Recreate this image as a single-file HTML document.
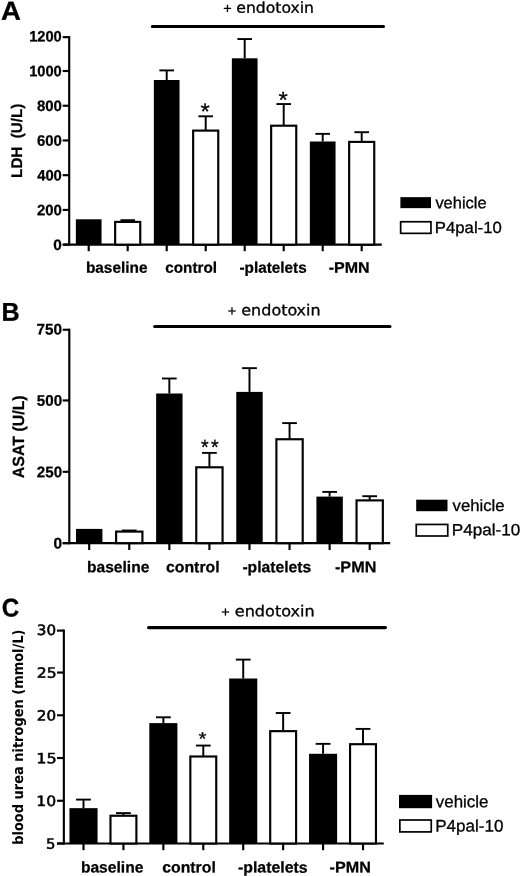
<!DOCTYPE html>
<html lang="en"><head><meta charset="utf-8"><title>Figure</title>
<style>
html,body{margin:0;padding:0;background:#fff;}
body{width:520px;height:876px;overflow:hidden;}
svg{display:block;}
text{fill:#000;text-rendering:geometricPrecision;}
</style></head><body>
<svg width="520" height="876" viewBox="0 0 520 876">
<rect x="0" y="0" width="520" height="876" fill="#fff"/>
<line x1="69.20" y1="36.07" x2="69.20" y2="245.72" stroke="#000" stroke-width="2.15" stroke-linecap="butt"/>
<line x1="62.70" y1="244.65" x2="381.80" y2="244.65" stroke="#000" stroke-width="2.15" stroke-linecap="butt"/>
<line x1="62.70" y1="244.65" x2="69.20" y2="244.65" stroke="#000" stroke-width="2.15" stroke-linecap="butt"/>
<text x="53.29" y="249.95" transform="rotate(0.03 53.29 249.95)" font-family="'Liberation Sans', sans-serif" font-size="15.1" font-weight="bold" textLength="8.57" lengthAdjust="spacingAndGlyphs" xml:space="preserve" stroke="#000" stroke-width="0.25" stroke-linejoin="round">0</text>
<line x1="62.70" y1="209.92" x2="69.20" y2="209.92" stroke="#000" stroke-width="2.15" stroke-linecap="butt"/>
<text x="36.90" y="215.22" transform="rotate(0.03 36.90 215.22)" font-family="'Liberation Sans', sans-serif" font-size="15.1" font-weight="bold" textLength="24.98" lengthAdjust="spacingAndGlyphs" xml:space="preserve" stroke="#000" stroke-width="0.25" stroke-linejoin="round">200</text>
<line x1="62.70" y1="175.19" x2="69.20" y2="175.19" stroke="#000" stroke-width="2.15" stroke-linecap="butt"/>
<text x="37.15" y="180.49" transform="rotate(0.03 37.15 180.49)" font-family="'Liberation Sans', sans-serif" font-size="15.1" font-weight="bold" textLength="24.72" lengthAdjust="spacingAndGlyphs" xml:space="preserve" stroke="#000" stroke-width="0.25" stroke-linejoin="round">400</text>
<line x1="62.70" y1="140.46" x2="69.20" y2="140.46" stroke="#000" stroke-width="2.15" stroke-linecap="butt"/>
<text x="36.90" y="145.76" transform="rotate(0.03 36.90 145.76)" font-family="'Liberation Sans', sans-serif" font-size="15.1" font-weight="bold" textLength="24.98" lengthAdjust="spacingAndGlyphs" xml:space="preserve" stroke="#000" stroke-width="0.25" stroke-linejoin="round">600</text>
<line x1="62.70" y1="105.73" x2="69.20" y2="105.73" stroke="#000" stroke-width="2.15" stroke-linecap="butt"/>
<text x="36.90" y="111.03" transform="rotate(0.03 36.90 111.03)" font-family="'Liberation Sans', sans-serif" font-size="15.1" font-weight="bold" textLength="24.98" lengthAdjust="spacingAndGlyphs" xml:space="preserve" stroke="#000" stroke-width="0.25" stroke-linejoin="round">800</text>
<line x1="62.70" y1="71.00" x2="69.20" y2="71.00" stroke="#000" stroke-width="2.15" stroke-linecap="butt"/>
<text x="29.13" y="76.30" transform="rotate(0.03 29.13 76.30)" font-family="'Liberation Sans', sans-serif" font-size="15.1" font-weight="bold" textLength="32.65" lengthAdjust="spacingAndGlyphs" xml:space="preserve" stroke="#000" stroke-width="0.25" stroke-linejoin="round">1000</text>
<line x1="62.70" y1="37.15" x2="69.20" y2="37.15" stroke="#000" stroke-width="2.15" stroke-linecap="butt"/>
<text x="29.13" y="41.57" transform="rotate(0.03 29.13 41.57)" font-family="'Liberation Sans', sans-serif" font-size="15.1" font-weight="bold" textLength="32.65" lengthAdjust="spacingAndGlyphs" xml:space="preserve" stroke="#000" stroke-width="0.25" stroke-linejoin="round">1200</text>
<rect x="75.85" y="219.30" width="25.70" height="25.35" fill="#000"/>
<line x1="88.70" y1="244.65" x2="88.70" y2="251.20" stroke="#000" stroke-width="2.15" stroke-linecap="butt"/>
<line x1="127.70" y1="220.20" x2="127.70" y2="221.90" stroke="#000" stroke-width="1.95" stroke-linecap="butt"/>
<line x1="120.40" y1="220.20" x2="135.00" y2="220.20" stroke="#000" stroke-width="1.9" stroke-linecap="butt"/>
<rect x="115.15" y="221.90" width="25.10" height="22.75" fill="#fff" stroke="#000" stroke-width="2.15"/>
<line x1="127.70" y1="244.65" x2="127.70" y2="251.20" stroke="#000" stroke-width="2.15" stroke-linecap="butt"/>
<line x1="166.70" y1="70.40" x2="166.70" y2="80.00" stroke="#000" stroke-width="1.95" stroke-linecap="butt"/>
<line x1="159.40" y1="70.40" x2="174.00" y2="70.40" stroke="#000" stroke-width="1.9" stroke-linecap="butt"/>
<rect x="153.85" y="80.00" width="25.70" height="164.65" fill="#000"/>
<line x1="166.70" y1="244.65" x2="166.70" y2="251.20" stroke="#000" stroke-width="2.15" stroke-linecap="butt"/>
<line x1="205.70" y1="116.30" x2="205.70" y2="130.60" stroke="#000" stroke-width="1.95" stroke-linecap="butt"/>
<line x1="198.40" y1="116.30" x2="213.00" y2="116.30" stroke="#000" stroke-width="1.9" stroke-linecap="butt"/>
<rect x="193.15" y="130.60" width="25.10" height="114.05" fill="#fff" stroke="#000" stroke-width="2.15"/>
<line x1="205.70" y1="244.65" x2="205.70" y2="251.20" stroke="#000" stroke-width="2.15" stroke-linecap="butt"/>
<text x="200.46" y="119.20" transform="rotate(0.03 200.46 119.20)" font-family="'Liberation Sans', sans-serif" font-size="23" font-weight="normal" textLength="9.23" lengthAdjust="spacingAndGlyphs" xml:space="preserve" stroke="#000" stroke-width="0.3" stroke-linejoin="round">*</text>
<line x1="244.70" y1="39.05" x2="244.70" y2="58.30" stroke="#000" stroke-width="1.95" stroke-linecap="butt"/>
<line x1="237.40" y1="39.05" x2="252.00" y2="39.05" stroke="#000" stroke-width="1.9" stroke-linecap="butt"/>
<rect x="231.85" y="58.30" width="25.70" height="186.35" fill="#000"/>
<line x1="244.70" y1="244.65" x2="244.70" y2="251.20" stroke="#000" stroke-width="2.15" stroke-linecap="butt"/>
<line x1="283.70" y1="104.05" x2="283.70" y2="125.70" stroke="#000" stroke-width="1.95" stroke-linecap="butt"/>
<line x1="276.40" y1="104.05" x2="291.00" y2="104.05" stroke="#000" stroke-width="1.9" stroke-linecap="butt"/>
<rect x="271.15" y="125.70" width="25.10" height="118.95" fill="#fff" stroke="#000" stroke-width="2.15"/>
<line x1="283.70" y1="244.65" x2="283.70" y2="251.20" stroke="#000" stroke-width="2.15" stroke-linecap="butt"/>
<text x="278.51" y="107.70" transform="rotate(0.03 278.51 107.70)" font-family="'Liberation Sans', sans-serif" font-size="23" font-weight="normal" textLength="9.23" lengthAdjust="spacingAndGlyphs" xml:space="preserve" stroke="#000" stroke-width="0.3" stroke-linejoin="round">*</text>
<line x1="322.70" y1="133.85" x2="322.70" y2="141.50" stroke="#000" stroke-width="1.95" stroke-linecap="butt"/>
<line x1="315.40" y1="133.85" x2="330.00" y2="133.85" stroke="#000" stroke-width="1.9" stroke-linecap="butt"/>
<rect x="309.85" y="141.50" width="25.70" height="103.15" fill="#000"/>
<line x1="322.70" y1="244.65" x2="322.70" y2="251.20" stroke="#000" stroke-width="2.15" stroke-linecap="butt"/>
<line x1="361.70" y1="132.20" x2="361.70" y2="141.90" stroke="#000" stroke-width="1.95" stroke-linecap="butt"/>
<line x1="354.40" y1="132.20" x2="369.00" y2="132.20" stroke="#000" stroke-width="1.9" stroke-linecap="butt"/>
<rect x="349.15" y="141.90" width="25.10" height="102.75" fill="#fff" stroke="#000" stroke-width="2.15"/>
<line x1="361.70" y1="244.65" x2="361.70" y2="251.20" stroke="#000" stroke-width="2.15" stroke-linecap="butt"/>
<text x="85.90" y="272.70" transform="rotate(0.03 85.90 272.70)" font-family="'Liberation Sans', sans-serif" font-size="15.4" font-weight="bold" textLength="61.62" lengthAdjust="spacingAndGlyphs" xml:space="preserve" stroke="#000" stroke-width="0.25" stroke-linejoin="round">baseline</text>
<text x="165.30" y="272.70" transform="rotate(0.03 165.30 272.70)" font-family="'Liberation Sans', sans-serif" font-size="15.4" font-weight="bold" textLength="51.67" lengthAdjust="spacingAndGlyphs" xml:space="preserve" stroke="#000" stroke-width="0.25" stroke-linejoin="round">control</text>
<text x="239.50" y="272.70" transform="rotate(0.03 239.50 272.70)" font-family="'Liberation Sans', sans-serif" font-size="15.4" font-weight="bold" textLength="67.25" lengthAdjust="spacingAndGlyphs" xml:space="preserve" stroke="#000" stroke-width="0.25" stroke-linejoin="round">-platelets</text>
<text x="328.68" y="272.70" transform="rotate(0.03 328.68 272.70)" font-family="'Liberation Sans', sans-serif" font-size="15.4" font-weight="bold" textLength="40.96" lengthAdjust="spacingAndGlyphs" xml:space="preserve" stroke="#000" stroke-width="0.25" stroke-linejoin="round">-PMN</text>
<line x1="152.30" y1="26.40" x2="383.50" y2="26.40" stroke="#000" stroke-width="3.0" stroke-linecap="round"/>
<text transform="rotate(0.03 223.15 13.20)" xml:space="preserve"><tspan x="223.15" y="13.20" font-family="'Liberation Sans', sans-serif" font-size="14.5" textLength="12.47" lengthAdjust="spacingAndGlyphs" stroke="#000" stroke-width="0.3" stroke-linejoin="round">+ </tspan><tspan x="236.33" y="12.70" font-family="'DejaVu Sans Condensed', 'DejaVu Sans', sans-serif" font-size="15" textLength="77.59" lengthAdjust="spacingAndGlyphs" stroke="#000" stroke-width="0.3" stroke-linejoin="round">endotoxin</tspan></text>
<text x="21.90" y="177.89" transform="rotate(-90 21.90 177.89)" font-family="'Liberation Sans', sans-serif" font-size="15.4" font-weight="bold" textLength="74.24" lengthAdjust="spacingAndGlyphs" xml:space="preserve" stroke="#000" stroke-width="0.25" stroke-linejoin="round">LDH  (U/L)</text>
<text x="1.11" y="19.85" transform="rotate(0.03 1.11 19.85)" font-family="'Liberation Sans', sans-serif" font-size="26" font-weight="bold" textLength="19.87" lengthAdjust="spacingAndGlyphs" xml:space="preserve" stroke="#000" stroke-width="0.3" stroke-linejoin="round">A</text>
<rect x="400.40" y="197.15" width="30.60" height="11.00" fill="#000"/>
<rect x="400.65" y="221.75" width="30.30" height="11.60" fill="#fff" stroke="#000" stroke-width="1.7"/>
<text x="435.40" y="208.15" transform="rotate(0.03 435.40 208.15)" font-family="'Liberation Sans', sans-serif" font-size="16.1" font-weight="normal" textLength="51.18" lengthAdjust="spacingAndGlyphs" xml:space="preserve" stroke="#000" stroke-width="0.3" stroke-linejoin="round">vehicle</text>
<text x="434.85" y="233.10" transform="rotate(0.03 434.85 233.10)" font-family="'Liberation Sans', sans-serif" font-size="16.1" font-weight="normal" textLength="66.97" lengthAdjust="spacingAndGlyphs" xml:space="preserve" stroke="#000" stroke-width="0.3" stroke-linejoin="round">P4pal-10</text>
<line x1="69.30" y1="328.68" x2="69.30" y2="544.23" stroke="#000" stroke-width="2.15" stroke-linecap="butt"/>
<line x1="62.70" y1="543.15" x2="390.20" y2="543.15" stroke="#000" stroke-width="2.15" stroke-linecap="butt"/>
<line x1="62.70" y1="543.15" x2="69.30" y2="543.15" stroke="#000" stroke-width="2.15" stroke-linecap="butt"/>
<text x="53.40" y="548.55" transform="rotate(0.03 53.40 548.55)" font-family="'Liberation Sans', sans-serif" font-size="15.4" font-weight="bold" textLength="8.57" lengthAdjust="spacingAndGlyphs" xml:space="preserve" stroke="#000" stroke-width="0.25" stroke-linejoin="round">0</text>
<line x1="62.70" y1="471.80" x2="69.30" y2="471.80" stroke="#000" stroke-width="2.15" stroke-linecap="butt"/>
<text x="36.81" y="477.20" transform="rotate(0.03 36.81 477.20)" font-family="'Liberation Sans', sans-serif" font-size="15.4" font-weight="bold" textLength="25.28" lengthAdjust="spacingAndGlyphs" xml:space="preserve" stroke="#000" stroke-width="0.25" stroke-linejoin="round">250</text>
<line x1="62.70" y1="400.45" x2="69.30" y2="400.45" stroke="#000" stroke-width="2.15" stroke-linecap="butt"/>
<text x="36.81" y="405.85" transform="rotate(0.03 36.81 405.85)" font-family="'Liberation Sans', sans-serif" font-size="15.4" font-weight="bold" textLength="25.28" lengthAdjust="spacingAndGlyphs" xml:space="preserve" stroke="#000" stroke-width="0.25" stroke-linejoin="round">500</text>
<line x1="62.70" y1="329.75" x2="69.30" y2="329.75" stroke="#000" stroke-width="2.15" stroke-linecap="butt"/>
<text x="36.55" y="334.50" transform="rotate(0.03 36.55 334.50)" font-family="'Liberation Sans', sans-serif" font-size="15.4" font-weight="bold" textLength="25.54" lengthAdjust="spacingAndGlyphs" xml:space="preserve" stroke="#000" stroke-width="0.25" stroke-linejoin="round">750</text>
<rect x="76.00" y="528.90" width="26.40" height="14.25" fill="#000"/>
<line x1="89.20" y1="543.15" x2="89.20" y2="550.00" stroke="#000" stroke-width="2.15" stroke-linecap="butt"/>
<line x1="129.27" y1="530.50" x2="129.27" y2="531.60" stroke="#000" stroke-width="1.95" stroke-linecap="butt"/>
<line x1="121.92" y1="530.50" x2="136.62" y2="530.50" stroke="#000" stroke-width="1.9" stroke-linecap="butt"/>
<rect x="116.12" y="531.60" width="26.30" height="11.55" fill="#fff" stroke="#000" stroke-width="2.15"/>
<line x1="129.27" y1="543.15" x2="129.27" y2="550.00" stroke="#000" stroke-width="2.15" stroke-linecap="butt"/>
<line x1="169.34" y1="378.50" x2="169.34" y2="393.50" stroke="#000" stroke-width="1.95" stroke-linecap="butt"/>
<line x1="161.99" y1="378.50" x2="176.69" y2="378.50" stroke="#000" stroke-width="1.9" stroke-linecap="butt"/>
<rect x="156.14" y="393.50" width="26.40" height="149.65" fill="#000"/>
<line x1="169.34" y1="543.15" x2="169.34" y2="550.00" stroke="#000" stroke-width="2.15" stroke-linecap="butt"/>
<line x1="209.41" y1="452.90" x2="209.41" y2="467.30" stroke="#000" stroke-width="1.95" stroke-linecap="butt"/>
<line x1="202.06" y1="452.90" x2="216.76" y2="452.90" stroke="#000" stroke-width="1.9" stroke-linecap="butt"/>
<rect x="196.26" y="467.30" width="26.30" height="75.85" fill="#fff" stroke="#000" stroke-width="2.15"/>
<line x1="209.41" y1="543.15" x2="209.41" y2="550.00" stroke="#000" stroke-width="2.15" stroke-linecap="butt"/>
<text x="201.03" y="454.33" transform="rotate(0.03 201.03 454.33)" font-family="'Liberation Sans', sans-serif" font-size="21" font-weight="normal" textLength="7.67" lengthAdjust="spacingAndGlyphs" xml:space="preserve" stroke="#000" stroke-width="0.3" stroke-linejoin="round">*</text>
<text x="211.03" y="454.33" transform="rotate(0.03 211.03 454.33)" font-family="'Liberation Sans', sans-serif" font-size="21" font-weight="normal" textLength="7.67" lengthAdjust="spacingAndGlyphs" xml:space="preserve" stroke="#000" stroke-width="0.3" stroke-linejoin="round">*</text>
<line x1="249.48" y1="368.15" x2="249.48" y2="391.90" stroke="#000" stroke-width="1.95" stroke-linecap="butt"/>
<line x1="242.13" y1="368.15" x2="256.83" y2="368.15" stroke="#000" stroke-width="1.9" stroke-linecap="butt"/>
<rect x="236.28" y="391.90" width="26.40" height="151.25" fill="#000"/>
<line x1="249.48" y1="543.15" x2="249.48" y2="550.00" stroke="#000" stroke-width="2.15" stroke-linecap="butt"/>
<line x1="289.55" y1="423.10" x2="289.55" y2="439.25" stroke="#000" stroke-width="1.95" stroke-linecap="butt"/>
<line x1="282.20" y1="423.10" x2="296.90" y2="423.10" stroke="#000" stroke-width="1.9" stroke-linecap="butt"/>
<rect x="276.40" y="439.25" width="26.30" height="103.90" fill="#fff" stroke="#000" stroke-width="2.15"/>
<line x1="289.55" y1="543.15" x2="289.55" y2="550.00" stroke="#000" stroke-width="2.15" stroke-linecap="butt"/>
<line x1="329.62" y1="491.90" x2="329.62" y2="496.60" stroke="#000" stroke-width="1.95" stroke-linecap="butt"/>
<line x1="322.27" y1="491.90" x2="336.97" y2="491.90" stroke="#000" stroke-width="1.9" stroke-linecap="butt"/>
<rect x="316.42" y="496.60" width="26.40" height="46.55" fill="#000"/>
<line x1="329.62" y1="543.15" x2="329.62" y2="550.00" stroke="#000" stroke-width="2.15" stroke-linecap="butt"/>
<line x1="369.69" y1="496.20" x2="369.69" y2="500.40" stroke="#000" stroke-width="1.95" stroke-linecap="butt"/>
<line x1="362.34" y1="496.20" x2="377.04" y2="496.20" stroke="#000" stroke-width="1.9" stroke-linecap="butt"/>
<rect x="356.54" y="500.40" width="26.30" height="42.75" fill="#fff" stroke="#000" stroke-width="2.15"/>
<line x1="369.69" y1="543.15" x2="369.69" y2="550.00" stroke="#000" stroke-width="2.15" stroke-linecap="butt"/>
<text x="87.00" y="572.20" transform="rotate(0.03 87.00 572.20)" font-family="'Liberation Sans', sans-serif" font-size="15.6" font-weight="bold" textLength="62.32" lengthAdjust="spacingAndGlyphs" xml:space="preserve" stroke="#000" stroke-width="0.25" stroke-linejoin="round">baseline</text>
<text x="165.99" y="572.20" transform="rotate(0.03 165.99 572.20)" font-family="'Liberation Sans', sans-serif" font-size="15.6" font-weight="bold" textLength="53.63" lengthAdjust="spacingAndGlyphs" xml:space="preserve" stroke="#000" stroke-width="0.25" stroke-linejoin="round">control</text>
<text x="242.40" y="572.20" transform="rotate(0.03 242.40 572.20)" font-family="'Liberation Sans', sans-serif" font-size="15.6" font-weight="bold" textLength="68.93" lengthAdjust="spacingAndGlyphs" xml:space="preserve" stroke="#000" stroke-width="0.25" stroke-linejoin="round">-platelets</text>
<text x="334.98" y="572.20" transform="rotate(0.03 334.98 572.20)" font-family="'Liberation Sans', sans-serif" font-size="15.6" font-weight="bold" textLength="41.37" lengthAdjust="spacingAndGlyphs" xml:space="preserve" stroke="#000" stroke-width="0.25" stroke-linejoin="round">-PMN</text>
<line x1="154.60" y1="326.55" x2="390.00" y2="326.55" stroke="#000" stroke-width="3.0" stroke-linecap="round"/>
<text transform="rotate(0.03 227.75 315.80)" xml:space="preserve"><tspan x="227.75" y="315.80" font-family="'Liberation Sans', sans-serif" font-size="14.5" textLength="12.47" lengthAdjust="spacingAndGlyphs" stroke="#000" stroke-width="0.3" stroke-linejoin="round">+ </tspan><tspan x="241.31" y="315.30" font-family="'DejaVu Sans Condensed', 'DejaVu Sans', sans-serif" font-size="15" textLength="79.34" lengthAdjust="spacingAndGlyphs" stroke="#000" stroke-width="0.3" stroke-linejoin="round">endotoxin</tspan></text>
<text x="23.75" y="478.24" transform="rotate(-90 23.75 478.24)" font-family="'Liberation Sans', sans-serif" font-size="16.2" font-weight="bold" textLength="82.91" lengthAdjust="spacingAndGlyphs" xml:space="preserve" stroke="#000" stroke-width="0.25" stroke-linejoin="round">ASAT (U/L)</text>
<text x="1.39" y="320.80" transform="rotate(0.03 1.39 320.80)" font-family="'Liberation Sans', sans-serif" font-size="25.7" font-weight="bold" textLength="18.15" lengthAdjust="spacingAndGlyphs" xml:space="preserve" stroke="#000" stroke-width="0.3" stroke-linejoin="round">B</text>
<rect x="416.20" y="499.70" width="31.30" height="11.50" fill="#000"/>
<rect x="416.25" y="524.45" width="31.50" height="11.55" fill="#fff" stroke="#000" stroke-width="1.7"/>
<text x="452.60" y="511.00" transform="rotate(0.03 452.60 511.00)" font-family="'Liberation Sans', sans-serif" font-size="16.3" font-weight="normal" textLength="52.00" lengthAdjust="spacingAndGlyphs" xml:space="preserve" stroke="#000" stroke-width="0.3" stroke-linejoin="round">vehicle</text>
<text x="451.79" y="535.30" transform="rotate(0.03 451.79 535.30)" font-family="'Liberation Sans', sans-serif" font-size="16.3" font-weight="normal" textLength="68.38" lengthAdjust="spacingAndGlyphs" xml:space="preserve" stroke="#000" stroke-width="0.3" stroke-linejoin="round">P4pal-10</text>
<line x1="63.85" y1="629.52" x2="63.85" y2="844.58" stroke="#000" stroke-width="2.15" stroke-linecap="butt"/>
<line x1="57.00" y1="843.50" x2="383.80" y2="843.50" stroke="#000" stroke-width="2.15" stroke-linecap="butt"/>
<line x1="57.00" y1="843.50" x2="63.85" y2="843.50" stroke="#000" stroke-width="2.15" stroke-linecap="butt"/>
<text x="46.11" y="848.65" transform="rotate(0.03 46.11 848.65)" font-family="'DejaVu Sans', 'DejaVu Sans', sans-serif" font-size="14.2" font-weight="normal" textLength="9.44" lengthAdjust="spacingAndGlyphs" xml:space="preserve" stroke="#000" stroke-width="0.55" stroke-linejoin="round">5</text>
<line x1="57.00" y1="800.76" x2="63.85" y2="800.76" stroke="#000" stroke-width="2.15" stroke-linecap="butt"/>
<text x="36.25" y="805.91" transform="rotate(0.03 36.25 805.91)" font-family="'DejaVu Sans', 'DejaVu Sans', sans-serif" font-size="14.2" font-weight="normal" textLength="19.85" lengthAdjust="spacingAndGlyphs" xml:space="preserve" stroke="#000" stroke-width="0.55" stroke-linejoin="round">10</text>
<line x1="57.00" y1="758.02" x2="63.85" y2="758.02" stroke="#000" stroke-width="2.15" stroke-linecap="butt"/>
<text x="36.20" y="763.17" transform="rotate(0.03 36.20 763.17)" font-family="'DejaVu Sans', 'DejaVu Sans', sans-serif" font-size="14.2" font-weight="normal" textLength="20.50" lengthAdjust="spacingAndGlyphs" xml:space="preserve" stroke="#000" stroke-width="0.55" stroke-linejoin="round">15</text>
<line x1="57.00" y1="715.28" x2="63.85" y2="715.28" stroke="#000" stroke-width="2.15" stroke-linecap="butt"/>
<text x="36.84" y="720.43" transform="rotate(0.03 36.84 720.43)" font-family="'DejaVu Sans', 'DejaVu Sans', sans-serif" font-size="14.2" font-weight="normal" textLength="19.24" lengthAdjust="spacingAndGlyphs" xml:space="preserve" stroke="#000" stroke-width="0.55" stroke-linejoin="round">20</text>
<line x1="57.00" y1="672.54" x2="63.85" y2="672.54" stroke="#000" stroke-width="2.15" stroke-linecap="butt"/>
<text x="36.80" y="677.69" transform="rotate(0.03 36.80 677.69)" font-family="'DejaVu Sans', 'DejaVu Sans', sans-serif" font-size="14.2" font-weight="normal" textLength="19.85" lengthAdjust="spacingAndGlyphs" xml:space="preserve" stroke="#000" stroke-width="0.55" stroke-linejoin="round">25</text>
<line x1="57.00" y1="630.60" x2="63.85" y2="630.60" stroke="#000" stroke-width="2.15" stroke-linecap="butt"/>
<text x="36.84" y="634.95" transform="rotate(0.03 36.84 634.95)" font-family="'DejaVu Sans', 'DejaVu Sans', sans-serif" font-size="14.2" font-weight="normal" textLength="19.24" lengthAdjust="spacingAndGlyphs" xml:space="preserve" stroke="#000" stroke-width="0.55" stroke-linejoin="round">30</text>
<line x1="83.50" y1="799.60" x2="83.50" y2="808.15" stroke="#000" stroke-width="1.95" stroke-linecap="butt"/>
<line x1="76.10" y1="799.60" x2="90.90" y2="799.60" stroke="#000" stroke-width="1.9" stroke-linecap="butt"/>
<rect x="69.45" y="808.15" width="28.10" height="35.35" fill="#000"/>
<line x1="83.50" y1="843.50" x2="83.50" y2="850.20" stroke="#000" stroke-width="2.15" stroke-linecap="butt"/>
<line x1="123.43" y1="813.10" x2="123.43" y2="815.75" stroke="#000" stroke-width="1.95" stroke-linecap="butt"/>
<line x1="116.03" y1="813.10" x2="130.83" y2="813.10" stroke="#000" stroke-width="1.9" stroke-linecap="butt"/>
<rect x="110.48" y="815.75" width="25.90" height="27.75" fill="#fff" stroke="#000" stroke-width="2.15"/>
<line x1="123.43" y1="843.50" x2="123.43" y2="850.20" stroke="#000" stroke-width="2.15" stroke-linecap="butt"/>
<line x1="163.36" y1="717.30" x2="163.36" y2="723.10" stroke="#000" stroke-width="1.95" stroke-linecap="butt"/>
<line x1="155.96" y1="717.30" x2="170.76" y2="717.30" stroke="#000" stroke-width="1.9" stroke-linecap="butt"/>
<rect x="149.31" y="723.10" width="28.10" height="120.40" fill="#000"/>
<line x1="163.36" y1="843.50" x2="163.36" y2="850.20" stroke="#000" stroke-width="2.15" stroke-linecap="butt"/>
<line x1="203.29" y1="745.55" x2="203.29" y2="756.50" stroke="#000" stroke-width="1.95" stroke-linecap="butt"/>
<line x1="195.89" y1="745.55" x2="210.69" y2="745.55" stroke="#000" stroke-width="1.9" stroke-linecap="butt"/>
<rect x="190.34" y="756.50" width="25.90" height="87.00" fill="#fff" stroke="#000" stroke-width="2.15"/>
<line x1="203.29" y1="843.50" x2="203.29" y2="850.20" stroke="#000" stroke-width="2.15" stroke-linecap="butt"/>
<text x="198.48" y="745.17" transform="rotate(0.03 198.48 745.17)" font-family="'Liberation Sans', sans-serif" font-size="19" font-weight="normal" textLength="8.00" lengthAdjust="spacingAndGlyphs" xml:space="preserve" stroke="#000" stroke-width="0.3" stroke-linejoin="round">*</text>
<line x1="243.22" y1="659.60" x2="243.22" y2="678.50" stroke="#000" stroke-width="1.95" stroke-linecap="butt"/>
<line x1="235.82" y1="659.60" x2="250.62" y2="659.60" stroke="#000" stroke-width="1.9" stroke-linecap="butt"/>
<rect x="229.17" y="678.50" width="28.10" height="165.00" fill="#000"/>
<line x1="243.22" y1="843.50" x2="243.22" y2="850.20" stroke="#000" stroke-width="2.15" stroke-linecap="butt"/>
<line x1="283.15" y1="713.00" x2="283.15" y2="731.15" stroke="#000" stroke-width="1.95" stroke-linecap="butt"/>
<line x1="275.75" y1="713.00" x2="290.55" y2="713.00" stroke="#000" stroke-width="1.9" stroke-linecap="butt"/>
<rect x="270.20" y="731.15" width="25.90" height="112.35" fill="#fff" stroke="#000" stroke-width="2.15"/>
<line x1="283.15" y1="843.50" x2="283.15" y2="850.20" stroke="#000" stroke-width="2.15" stroke-linecap="butt"/>
<line x1="323.08" y1="743.85" x2="323.08" y2="753.80" stroke="#000" stroke-width="1.95" stroke-linecap="butt"/>
<line x1="315.68" y1="743.85" x2="330.48" y2="743.85" stroke="#000" stroke-width="1.9" stroke-linecap="butt"/>
<rect x="309.03" y="753.80" width="28.10" height="89.70" fill="#000"/>
<line x1="323.08" y1="843.50" x2="323.08" y2="850.20" stroke="#000" stroke-width="2.15" stroke-linecap="butt"/>
<line x1="363.01" y1="728.90" x2="363.01" y2="744.20" stroke="#000" stroke-width="1.95" stroke-linecap="butt"/>
<line x1="355.61" y1="728.90" x2="370.41" y2="728.90" stroke="#000" stroke-width="1.9" stroke-linecap="butt"/>
<rect x="350.06" y="744.20" width="25.90" height="99.30" fill="#fff" stroke="#000" stroke-width="2.15"/>
<line x1="363.01" y1="843.50" x2="363.01" y2="850.20" stroke="#000" stroke-width="2.15" stroke-linecap="butt"/>
<text x="80.90" y="872.60" transform="rotate(0.03 80.90 872.60)" font-family="'Liberation Sans', sans-serif" font-size="15.6" font-weight="bold" textLength="62.52" lengthAdjust="spacingAndGlyphs" xml:space="preserve" stroke="#000" stroke-width="0.25" stroke-linejoin="round">baseline</text>
<text x="162.19" y="872.60" transform="rotate(0.03 162.19 872.60)" font-family="'Liberation Sans', sans-serif" font-size="15.6" font-weight="bold" textLength="53.63" lengthAdjust="spacingAndGlyphs" xml:space="preserve" stroke="#000" stroke-width="0.25" stroke-linejoin="round">control</text>
<text x="237.99" y="872.60" transform="rotate(0.03 237.99 872.60)" font-family="'Liberation Sans', sans-serif" font-size="15.6" font-weight="bold" textLength="69.65" lengthAdjust="spacingAndGlyphs" xml:space="preserve" stroke="#000" stroke-width="0.25" stroke-linejoin="round">-platelets</text>
<text x="329.63" y="872.60" transform="rotate(0.03 329.63 872.60)" font-family="'Liberation Sans', sans-serif" font-size="15.6" font-weight="bold" textLength="41.21" lengthAdjust="spacingAndGlyphs" xml:space="preserve" stroke="#000" stroke-width="0.25" stroke-linejoin="round">-PMN</text>
<line x1="148.60" y1="627.55" x2="385.40" y2="627.55" stroke="#000" stroke-width="3.2" stroke-linecap="round"/>
<text transform="rotate(0.03 221.25 616.80)" xml:space="preserve"><tspan x="221.25" y="616.80" font-family="'Liberation Sans', sans-serif" font-size="14.5" textLength="12.47" lengthAdjust="spacingAndGlyphs" stroke="#000" stroke-width="0.3" stroke-linejoin="round">+ </tspan><tspan x="234.81" y="616.30" font-family="'DejaVu Sans Condensed', 'DejaVu Sans', sans-serif" font-size="15" textLength="79.85" lengthAdjust="spacingAndGlyphs" stroke="#000" stroke-width="0.3" stroke-linejoin="round">endotoxin</tspan></text>
<text x="23.10" y="844.76" transform="rotate(-90 23.10 844.76)" font-family="'DejaVu Sans Condensed', 'DejaVu Sans', sans-serif" font-size="14.3" font-weight="bold" textLength="215.19" lengthAdjust="spacingAndGlyphs" xml:space="preserve">blood urea nitrogen (mmol/L)</text>
<text x="1.76" y="616.50" transform="rotate(0.03 1.76 616.50)" font-family="'Liberation Sans', sans-serif" font-size="25.7" font-weight="bold" textLength="17.51" lengthAdjust="spacingAndGlyphs" xml:space="preserve" stroke="#000" stroke-width="0.3" stroke-linejoin="round">C</text>
<rect x="399.00" y="794.90" width="33.10" height="13.30" fill="#000"/>
<rect x="399.85" y="820.00" width="31.40" height="11.90" fill="#fff" stroke="#000" stroke-width="1.7"/>
<text x="435.85" y="807.25" transform="rotate(0.03 435.85 807.25)" font-family="'Liberation Sans', sans-serif" font-size="16.7" font-weight="normal" textLength="52.59" lengthAdjust="spacingAndGlyphs" xml:space="preserve" stroke="#000" stroke-width="0.3" stroke-linejoin="round">vehicle</text>
<text x="435.23" y="831.40" transform="rotate(0.03 435.23 831.40)" font-family="'Liberation Sans', sans-serif" font-size="16.7" font-weight="normal" textLength="68.18" lengthAdjust="spacingAndGlyphs" xml:space="preserve" stroke="#000" stroke-width="0.3" stroke-linejoin="round">P4pal-10</text>
</svg>
</body></html>
